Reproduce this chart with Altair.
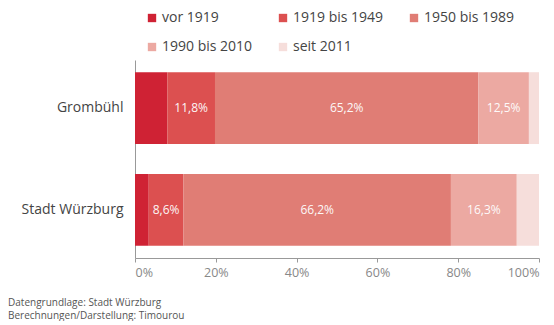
import altair as alt
import pandas as pd

regions = ["Grombühl", "Stadt Würzburg"]
periods = ["vor 1919", "1919 bis 1949", "1950 bis 1989", "1990 bis 2010", "seit 2011"]
grombuehl = [8.0, 11.8, 65.2, 12.5, 2.5]
wuerzburg = [3.4, 8.6, 66.2, 16.3, 5.5]
labels_grombuehl = ["", "11,8%", "65,2%", "12,5%", ""]
labels_wuerzburg = ["", "8,6%", "66,2%", "16,3%", ""]
colors = ["#cf2234", "#dc5050", "#e07d75", "#eca9a2", "#f6dedb"]
x_ticks = [0, 20, 40, 60, 80, 100]

rows = []
for reg, vals, labs in [(regions[0], grombuehl, labels_grombuehl), (regions[1], wuerzburg, labels_wuerzburg)]:
    for i, (p, v, l) in enumerate(zip(periods, vals, labs)):
        rows.append({"region": reg, "period": p, "value": v, "label": l, "idx": i})
df = pd.DataFrame(rows)

base = alt.Chart(df).transform_stack(
    stack="value", groupby=["region"], as_=["start", "end"],
    sort=[alt.SortField("idx", order="ascending")]
).transform_calculate(mid="(datum.start + datum.end) / 2")

y_enc = alt.Y("region:N", sort=regions, title=None,
              scale=alt.Scale(paddingInner=0.294, paddingOuter=0.12),
              axis=alt.Axis(ticks=False, labelPadding=12, labelFontSize=14,
                            labelColor="#444", labelFont="Open Sans",
                            domainColor="#999", minExtent=122, labelLimit=200))

bars = base.mark_bar().encode(
    x=alt.X("start:Q", scale=alt.Scale(domain=[0, 100]), title=None,
            axis=alt.Axis(values=x_ticks, labelExpr="datum.value + '%'",
                          grid=False, tickSize=4, tickColor="#999",
                          domainColor="#999", labelColor="#888",
                          labelFontSize=12.5, labelFont="Open Sans", labelPadding=4)),
    x2="end:Q",
    y=y_enc,
    color=alt.Color("period:N", sort=periods,
                    scale=alt.Scale(domain=periods, range=colors),
                    legend=alt.Legend(title=None, orient="none", legendX=10, legendY=-49,
                                      columns=3, direction="horizontal",
                                      symbolType="square", symbolSize=70,
                                      labelFontSize=14, labelFont="Open Sans",
                                      labelColor="#444", columnPadding=23,
                                      rowPadding=15, gridAlign="all",
                                      symbolStrokeWidth=0, labelOffset=3)),
)

texts = base.mark_text(color="white", fontSize=12, font="Open Sans", opacity=0.95).encode(
    x=alt.X("mid:Q"),
    y=alt.Y("region:N", sort=regions),
    text="label:N",
)

chart = (bars + texts).properties(
    width=404, height=198,
    padding={"left": 0, "top": 3, "right": 5, "bottom": 0},
    title=alt.TitleParams(
        text=["Datengrundlage: Stadt Würzburg", "Berechnungen/Darstellung: Timourou"],
        orient="bottom", anchor="start", frame="bounds", fontSize=10,
        font="Open Sans", fontWeight="normal", color="#555", offset=19, dx=-5,
        lineHeight=13),
).configure_view(stroke=None)

chart.save("out.html", embed_options={"renderer": "svg", "actions": False})
